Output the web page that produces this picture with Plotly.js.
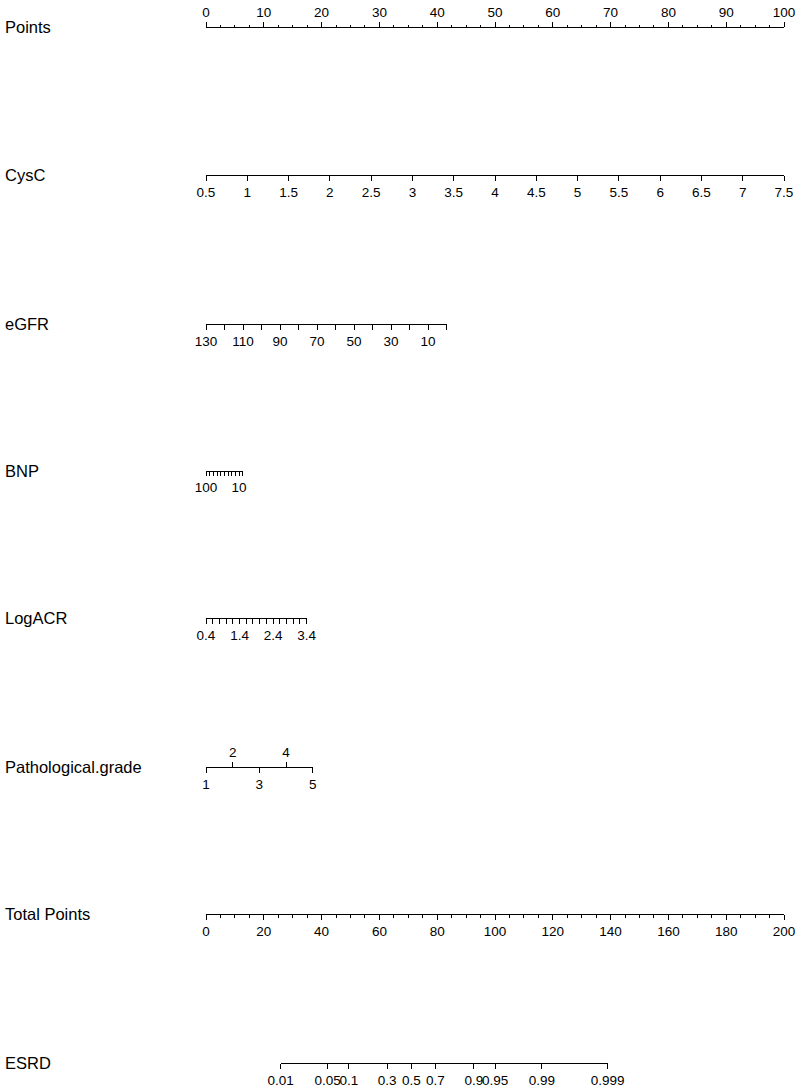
<!DOCTYPE html>
<html>
<head>
<meta charset="utf-8">
<script src="https://cdn.plot.ly/plotly-3.0.1.min.js"></script>
<style>html,body{margin:0;padding:0;background:#fff;}#chart{width:800px;height:1091px;}</style>
</head>
<body>
<div id="chart"></div>
<script>
// ---- Data (nomogram scales) ----
const rowNames = ["Points", "CysC", "eGFR", "BNP", "LogACR", "Pathological.grade", "Total Points", "ESRD"];

const pointsTicks = [0, 10, 20, 30, 40, 50, 60, 70, 80, 90, 100];
const pointsLabels = ["0", "10", "20", "30", "40", "50", "60", "70", "80", "90", "100"];

const cyscTicks = [0.5, 1, 1.5, 2, 2.5, 3, 3.5, 4, 4.5, 5, 5.5, 6, 6.5, 7, 7.5];
const cyscLabels = ["0.5", "1", "1.5", "2", "2.5", "3", "3.5", "4", "4.5", "5", "5.5", "6", "6.5", "7", "7.5"];

const egfrTicks = [130, 120, 110, 100, 90, 80, 70, 60, 50, 40, 30, 20, 10, 0];
const egfrLabels = ["130", "", "110", "", "90", "", "70", "", "50", "", "30", "", "10", ""];

const bnpTicks = [100, 90, 80, 70, 60, 50, 40, 30, 20, 10, 0];
const bnpLabels = ["100", "", "", "", "", "", "", "", "", "10", ""];

const logacrTicks = [0.4, 0.6, 0.8, 1.0, 1.2, 1.4, 1.6, 1.8, 2.0, 2.2, 2.4, 2.6, 2.8, 3.0, 3.2, 3.4];
const logacrLabels = ["0.4", "", "", "", "", "1.4", "", "", "", "", "2.4", "", "", "", "", "3.4"];

const gradeTicksBelow = [1, 3, 5];
const gradeLabelsBelow = ["1", "3", "5"];
const gradeTicksAbove = [2, 4];
const gradeLabelsAbove = ["2", "4"];

const totalTicks = [0, 20, 40, 60, 80, 100, 120, 140, 160, 180, 200];
const totalLabels = ["0", "20", "40", "60", "80", "100", "120", "140", "160", "180", "200"];

const esrdProbs = [0.01, 0.05, 0.1, 0.3, 0.5, 0.7, 0.9, 0.95, 0.99, 0.999];
const esrdLabels = ["0.01", "0.05", "0.1", "0.3", "0.5", "0.7", "0.9", "0.95", "0.99", "0.999"];

// ---- Layout geometry ----
const W = 800, H = 1091;
const FONT = "Liberation Sans, Arial, Helvetica, sans-serif";
const logit = p => Math.log(p / (1 - p));

// row line positions (px from top)
const rowY = [27, 175, 324, 471, 618, 767, 914, 1063];
// axis extents in px
const ext = {
  points: [206, 784], cysc: [206, 784], egfr: [206, 446.5], bnp: [206, 242.7],
  logacr: [206, 306.7], grade: [206, 312.7], total: [206, 784], esrd: [280.7, 607.7]
};
const dom = e => [e[0] / W, e[1] / W];
const pos = py => 1 - py / H;

function axis(extent, range, tickvals, ticktext, py, side, extra) {
  const a = {
    domain: dom(extent), range: range, anchor: "free", position: pos(py), side: side,
    tickmode: "array", tickvals: tickvals, ticktext: ticktext, tickangle: 0,
    showline: true, linecolor: "#000", linewidth: 1,
    ticks: "outside", ticklen: 5, tickwidth: 1, tickcolor: "#000",
    showgrid: false, zeroline: false, automargin: false, fixedrange: true,
    tickfont: { family: FONT, size: 13.5, color: "#000" }, ticklabelstandoff: 0
  };
  return Object.assign(a, extra || {});
}

const layout = {
  width: W, height: H, margin: { l: 0, r: 0, t: 0, b: 0, pad: 0 },
  paper_bgcolor: "#fff", plot_bgcolor: "rgba(0,0,0,0)", showlegend: false,
  yaxis: { domain: [0, 1], range: [0, 1], visible: false, fixedrange: true },
  xaxis: axis(ext.points, [0, 100], pointsTicks, pointsLabels, rowY[0], "top",
    { minor: { tickmode: "linear", tick0: 0, dtick: 2.5, ticks: "outside", ticklen: 2.5, tickwidth: 1, tickcolor: "#000" } }),
  xaxis2: axis(ext.cysc, [0.5, 7.5], cyscTicks, cyscLabels, rowY[1], "bottom"),
  xaxis3: axis(ext.egfr, [130, 0], egfrTicks, egfrLabels, rowY[2], "bottom"),
  xaxis4: axis(ext.bnp, [100, 0], bnpTicks, bnpLabels, rowY[3], "bottom", { ticklen: 4 }),
  xaxis5: axis(ext.logacr, [0.4, 3.4], logacrTicks, logacrLabels, rowY[4], "bottom"),
  xaxis6: axis(ext.grade, [1, 5], gradeTicksBelow, gradeLabelsBelow, rowY[5], "bottom"),
  xaxis7: axis(ext.grade, [1, 5], gradeTicksAbove, gradeLabelsAbove, rowY[5], "top"),
  xaxis8: axis(ext.total, [0, 200], totalTicks, totalLabels, rowY[6], "bottom",
    { minor: { tickmode: "linear", tick0: 0, dtick: 5, ticks: "outside", ticklen: 2.5, tickwidth: 1, tickcolor: "#000" } }),
  xaxis9: axis(ext.esrd, [logit(0.01), logit(0.999)], esrdProbs.map(logit), esrdLabels, rowY[7], "bottom"),
  annotations: rowNames.map((name, i) => ({
    text: name, xref: "paper", yref: "paper", x: 3 / W, y: pos(rowY[i]),
    xanchor: "left", yanchor: "middle", showarrow: false,
    font: { family: FONT, size: 16.5, color: "#000" }
  }))
};

// invisible carrier traces, one per axis, holding the tick values of each scale
const carriers = [
  ["x", pointsTicks], ["x2", cyscTicks], ["x3", egfrTicks], ["x4", bnpTicks], ["x5", logacrTicks],
  ["x6", gradeTicksBelow], ["x7", gradeTicksAbove], ["x8", totalTicks], ["x9", esrdProbs.map(logit)]
];
const data = carriers.map(([xa, vals]) => ({
  type: "scatter", mode: "markers", xaxis: xa, yaxis: "y",
  x: vals, y: vals.map(() => 0.5), marker: { opacity: 0, size: 1 },
  hoverinfo: "skip", showlegend: false
}));

Plotly.newPlot("chart", data, layout, { staticPlot: true, displayModeBar: false });
</script>
</body>
</html>
